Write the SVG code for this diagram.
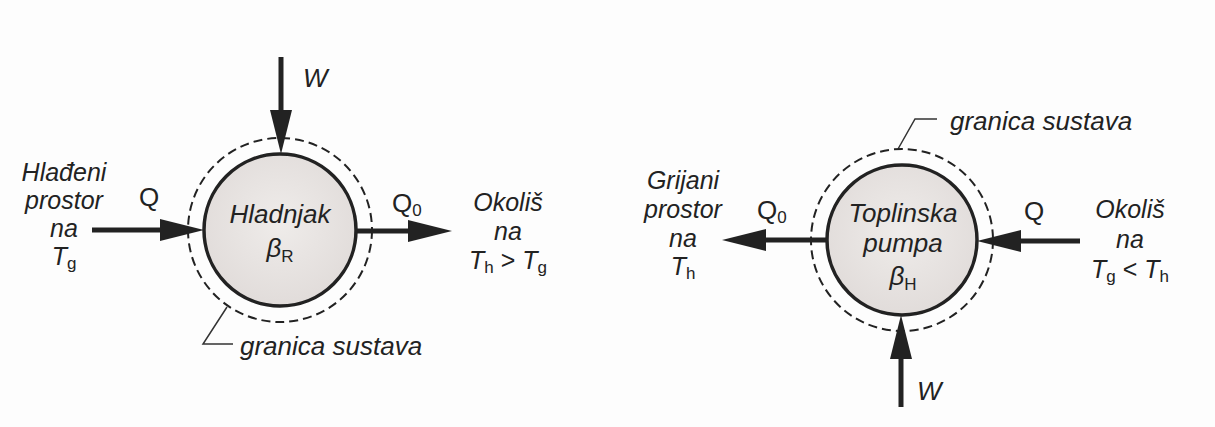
<svg xmlns="http://www.w3.org/2000/svg" width="1215" height="427" viewBox="0 0 1215 427">
  <defs>
    <radialGradient id="fill" cx="50%" cy="45%" r="55%">
      <stop offset="0" stop-color="#efecea"/>
      <stop offset="1" stop-color="#e1dcda"/>
    </radialGradient>
    <marker id="arrow" markerUnits="userSpaceOnUse" markerWidth="44" markerHeight="24" viewBox="0 0 44 24" refX="24" refY="12" orient="auto">
      <path d="M0,1 L44,12 L0,23 Z" fill="#222"/>
    </marker>
    <style>
      .t { font-family: "Liberation Sans", Arial, sans-serif; font-size: 25px; font-style: italic; fill: #222; }
      .c { font-size: 26px; }
      .m { text-anchor: middle; }
      .u { font-style: normal; }
      .sub { font-style: normal; font-size: 17px; }
      .q { font-family: "Liberation Sans", Arial, sans-serif; font-size: 26px; fill: #222; }
      .body { fill: url(#fill); stroke: #222; stroke-width: 3.5; }
      .bound { fill: none; stroke: #222; stroke-width: 2; stroke-dasharray: 9 5; }
      .flow { stroke: #222; stroke-width: 5; fill: none; marker-end: url(#arrow); }
      .lead { fill: none; stroke: #333; stroke-width: 1.5; }
    </style>
  </defs>
  <rect width="1215" height="427" fill="#fdfdfd"/>

  <g id="connectors">
    <line class="flow" x1="92" y1="230" x2="184" y2="230"/>
    <line class="flow" x1="281" y1="57" x2="281" y2="134"/>
    <line class="flow" x1="356" y1="231" x2="432" y2="231"/>
    <line class="flow" x1="828" y1="240" x2="742" y2="240"/>
    <line class="flow" x1="1080" y1="241" x2="997" y2="241"/>
    <line class="flow" x1="901" y1="407" x2="901" y2="335"/>
    <polyline class="lead" points="227,307 203,344 233,344"/>
    <polyline class="lead" points="898,149 915,119 937,119"/>
  </g>

  <g id="hladnjak">
    <circle class="bound" cx="280" cy="230" r="92"/>
    <circle class="body" cx="280" cy="230" r="76"/>
    <text class="t c m" x="280" y="223">Hladnjak</text>
    <text class="t c m" x="280" y="257">β<tspan class="sub" dy="5">R</tspan></text>
  </g>

  <g id="toplinska-pumpa">
    <circle class="bound" cx="902" cy="240" r="91"/>
    <circle class="body" cx="902" cy="240" r="75"/>
    <text class="t c m" x="903" y="222">Toplinska</text>
    <text class="t c m" x="903" y="252">pumpa</text>
    <text class="t c m" x="903" y="285">β<tspan class="sub" dy="5">H</tspan></text>
  </g>

  <g id="hladeni-prostor">
    <text class="t m" x="64" y="181">Hlađeni</text>
    <text class="t m" x="64" y="209">prostor</text>
    <text class="t m" x="64" y="237">na</text>
    <text class="t m" x="64" y="265">T<tspan class="sub" dy="4">g</tspan></text>
  </g>

  <g id="okolis-left">
    <text class="t m" x="508" y="211">Okoliš</text>
    <text class="t m" x="508" y="240">na</text>
    <text class="t m" x="508" y="269">T<tspan class="sub" dy="4">h</tspan><tspan class="u" dy="-4"> &gt; </tspan>T<tspan class="sub" dy="4">g</tspan></text>
  </g>

  <g id="grijani-prostor">
    <text class="t m" x="683" y="189">Grijani</text>
    <text class="t m" x="683" y="218">prostor</text>
    <text class="t m" x="683" y="247">na</text>
    <text class="t m" x="683" y="275">T<tspan class="sub" dy="4">h</tspan></text>
  </g>

  <g id="okolis-right">
    <text class="t m" x="1130" y="218">Okoliš</text>
    <text class="t m" x="1130" y="248">na</text>
    <text class="t m" x="1130" y="278">T<tspan class="sub" dy="4">g</tspan><tspan class="u" dy="-4"> &lt; </tspan>T<tspan class="sub" dy="4">h</tspan></text>
  </g>

  <g id="labels">
    <text class="t c" x="303" y="87">W</text>
    <text class="q" x="139" y="206">Q</text>
    <text class="q" x="392" y="212">Q<tspan class="sub" dy="4">0</tspan></text>
    <text class="q" x="757" y="219">Q<tspan class="sub" dy="4">0</tspan></text>
    <text class="q" x="1024" y="220">Q</text>
    <text class="t c" x="917" y="400">W</text>
    <text class="t c" x="240" y="355">granica sustava</text>
    <text class="t c" x="950" y="130">granica sustava</text>
  </g>
</svg>
